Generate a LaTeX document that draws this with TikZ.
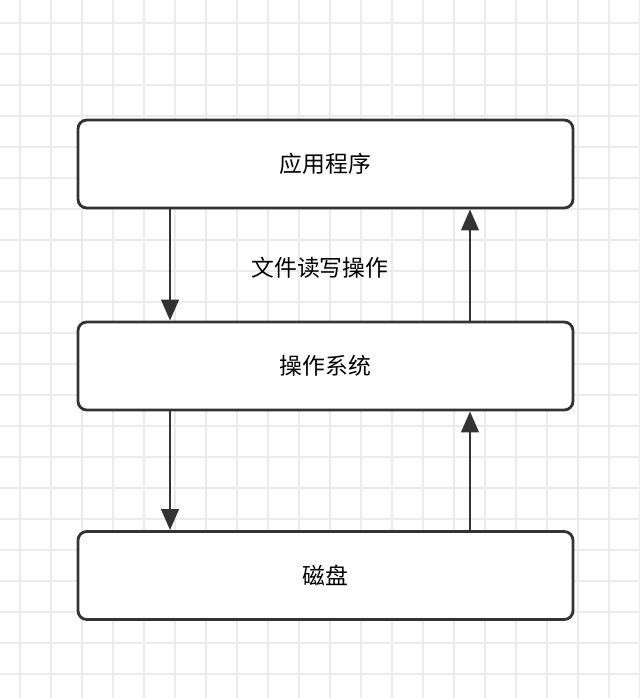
\documentclass[tikz,border=0pt]{standalone}
\usepackage{fontspec}
\newfontfamily\cjk{Noto Sans CJK SC}
\usetikzlibrary{positioning,arrows.meta}

\tikzset{
  box/.style={draw=black!80, line width=1.6pt, rounded corners=5pt, fill=white,
    minimum width=495*0.02cm, minimum height=88*0.02cm, font=\cjk\fontsize{13}{15}\selectfont},
  flow/.style={draw=black!80, line width=1.6pt, -{Triangle[length=12pt,width=10pt]}}
}

\begin{document}
\begin{tikzpicture}[x=0.02cm,y=-0.02cm]
\useasboundingbox (0,0) rectangle (640,698);
% grid
\foreach \i in {0,...,20} {
  \draw [black!8, line width=0.8pt] (20+31*\i,0) -- (20+31*\i,698);
}
\foreach \i in {0,...,22} {
  \draw [black!8, line width=0.8pt] (0,23+31*\i) -- (640,23+31*\i);
}
\node [box] (app) at (325.5,164) {应用程序};
\node [box] (os) at (325.5,366) {操作系统};
\node [box] (disk) at (325.5,575.5) {磁盘};
\node [font=\cjk\fontsize{13}{15}\selectfont] (rw) at (320,268) {文件读写操作};
\coordinate (a1) at (170,208); \coordinate (a2) at (170,322);
\coordinate (b1) at (470,322); \coordinate (b2) at (470,208);
\coordinate (c1) at (170,410); \coordinate (c2) at (170,532);
\coordinate (d1) at (470,532); \coordinate (d2) at (470,410);
\draw [flow] (app.south -| a1) -- (os.north -| a2);
\draw [flow] (os.north -| b1) -- (app.south -| b2);
\draw [flow] (os.south -| c1) -- (disk.north -| c2);
\draw [flow] (disk.north -| d1) -- (os.south -| d2);
\end{tikzpicture}
\end{document}
